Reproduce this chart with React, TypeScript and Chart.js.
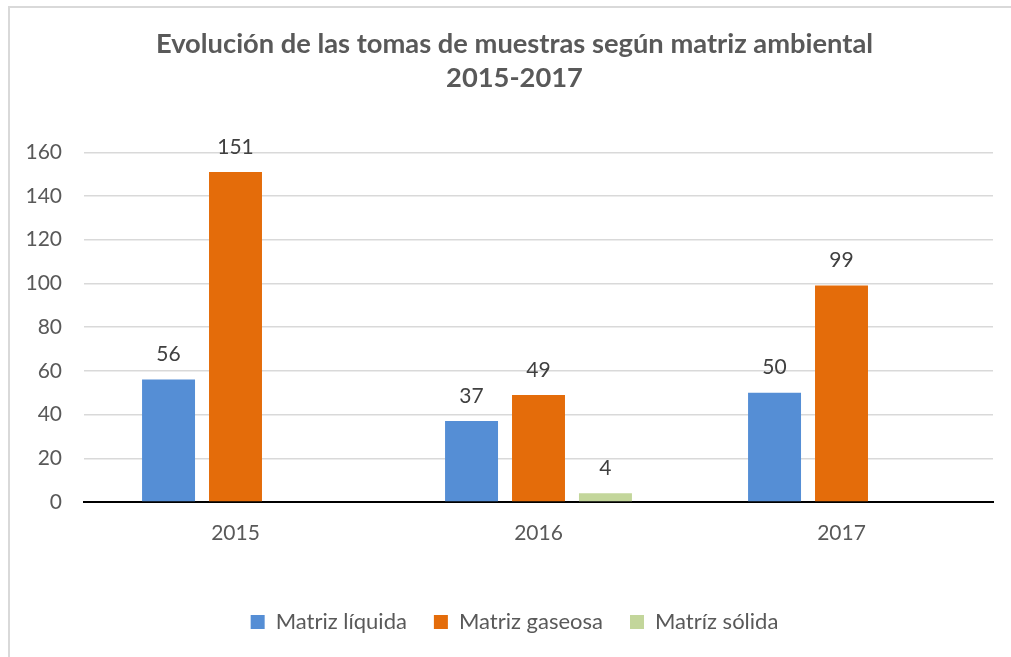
import React, { useEffect, useRef } from "react";
import { Chart, registerables } from "chart.js";

Chart.register(...registerables);

const categories = ["2015", "2016", "2017"];
const seriesNames = ["Matriz líquida", "Matriz gaseosa", "Matríz sólida"];
const liquida = [56, 37, 50];
const gaseosa = [151, 49, 99];
const solida: (number | null)[] = [null, 4, null];
const yTicks = [0, 20, 40, 60, 80, 100, 120, 140, 160];
const titleLines = ["Evolución de las tomas de muestras según matriz ambiental", "2015-2017"];

const FONT = "Lato, 'Open Sans', sans-serif";

const dataLabels = {
  id: "dataLabels",
  afterDatasetsDraw(chart: any) {
    const ctx = chart.ctx;
    ctx.save();
    ctx.font = `21px ${FONT}`;
    ctx.fillStyle = "#404040";
    ctx.textAlign = "center";
    ctx.textBaseline = "middle";
    chart.data.datasets.forEach((ds: any, i: number) => {
      const meta = chart.getDatasetMeta(i);
      meta.data.forEach((el: any, j: number) => {
        const v = ds.data[j];
        if (v === null || v === undefined) return;
        ctx.fillText(String(v), el.x, el.y - 25);
      });
    });
    ctx.restore();
  },
};

export default function App() {
  const ref = useRef<HTMLCanvasElement>(null);
  useEffect(() => {
    document.documentElement.style.overflow = "hidden";
    document.body.style.overflow = "hidden";
    document.body.style.margin = "0";
    if (!ref.current) return;
    const chart = new Chart(ref.current, {
      type: "bar",
      data: {
        labels: categories,
        datasets: [
          { label: seriesNames[0], data: liquida, backgroundColor: "#558ED5" },
          { label: seriesNames[1], data: gaseosa, backgroundColor: "#E46C0A" },
          { label: seriesNames[2], data: solida, backgroundColor: "#C3D69B" },
        ],
      },
      options: {
        animation: false,
        responsive: false,
        maintainAspectRatio: false,
        datasets: { bar: { categoryPercentage: 0.663, barPercentage: 0.791 } } as any,
        layout: { padding: { left: 8, right: 0, top: 0, bottom: 14 } },
        plugins: {
          title: {
            display: true,
            text: titleLines,
            color: "#595959",
            font: { family: FONT, size: 27.3, weight: "bold", lineHeight: 1.25 },
            padding: { top: 19, bottom: 57 },
          },
          legend: {
            position: "bottom",
            labels: {
              color: "#595959",
              font: { family: FONT, size: 22 },
              boxWidth: 14,
              boxHeight: 14,
              padding: 27,
            },
          },
          tooltip: { enabled: false },
        },
        scales: {
          x: {
            grid: { display: false },
            border: { display: true, color: "#000000", width: 2 },
            ticks: { color: "#595959", font: { family: FONT, size: 21 }, padding: 11 },
            afterFit: (scale: any) => {
              scale.height = 82;
            },
          },
          y: {
            min: 0,
            max: 160,
            afterBuildTicks: (scale: any) => {
              scale.ticks = yTicks.map((v) => ({ value: v }));
            },
            afterFit: (scale: any) => {
              scale.width = 66;
            },
            grid: { color: "#D9D9D9", lineWidth: 1.5, drawTicks: false },
            border: { display: false },
            ticks: { color: "#595959", font: { family: FONT, size: 21 }, padding: 22 },
          },
          yRight: {
            position: "right",
            display: true,
            min: 0,
            max: 160,
            grid: { display: false, drawTicks: false },
            border: { display: false },
            ticks: { display: false },
            afterFit: (scale: any) => {
              scale.width = 18;
            },
          },
        },
      },
      plugins: [dataLabels],
    });
    return () => chart.destroy();
  }, []);
  return (
    <div
      style={{
        position: "fixed",
        left: 8,
        top: 6,
        width: 1003,
        height: 651,
        borderLeft: "2px solid #D9D9D9",
        borderTop: "2px solid #D9D9D9",
        background: "#fff",
        boxSizing: "border-box",
        overflow: "hidden",
      }}
    >
      <canvas ref={ref} width={1001} height={649} style={{ display: "block" }} />
    </div>
  );
}
